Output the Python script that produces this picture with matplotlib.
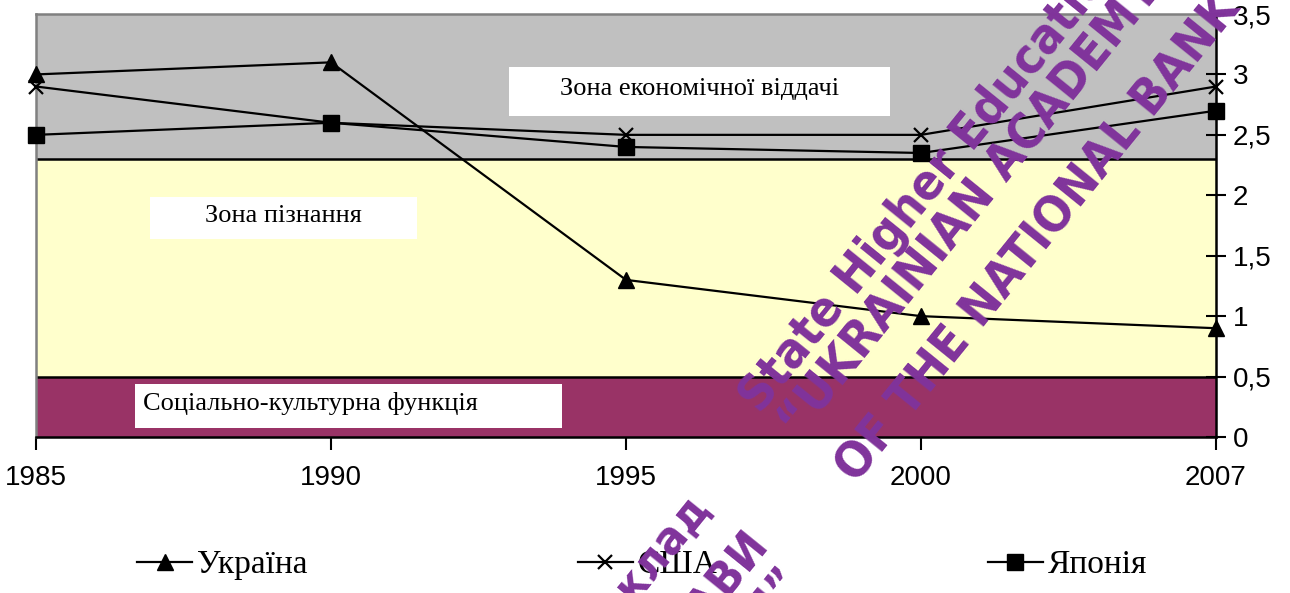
import numpy as np
import matplotlib.pyplot as plt
from matplotlib.patches import Rectangle

# data
years = ['1985', '1990', '1995', '2000', '2007']
ukraine = [3.0, 3.1, 1.3, 1.0, 0.9]
usa = [2.9, 2.6, 2.5, 2.5, 2.9]
japan = [2.5, 2.6, 2.4, 2.35, 2.7]
yticks = [0, 0.5, 1, 1.5, 2, 2.5, 3, 3.5]
ytick_labels = ['0', '0,5', '1', '1,5', '2', '2,5', '3', '3,5']
zone_bounds = [0, 0.5, 2.3, 3.5]
zone_colors = ['#993366', '#FFFFCC', '#C0C0C0']
zone_names = ['Соціально-культурна функція', 'Зона пізнання', 'Зона економічної віддачі']

W, H = 1290, 593
fig = plt.figure(figsize=(W / 100, H / 100), dpi=100)
ax = fig.add_axes([36 / W, 1 - 437 / H, (1216 - 36) / W, (437 - 14) / H])

x = np.arange(len(years))
ax.set_xlim(0, len(years) - 1)
ax.set_ylim(0, 3.5)

# background zones
for lo, hi, c in zip(zone_bounds[:-1], zone_bounds[1:], zone_colors):
    ax.axhspan(lo, hi, color=c, zorder=0, lw=0)
for b in zone_bounds[1:-1]:
    ax.axhline(b, color='black', lw=1.8, zorder=1)

# zone label boxes (x0, x1, y0, y1 in data units)
boxes = [(0.336, 1.783, 0.075, 0.438),
         (0.386, 1.292, 1.638, 1.986),
         (1.603, 2.895, 2.656, 3.061)]
for i, ((x0, x1, y0, y1), name) in enumerate(zip(boxes, zone_names)):
    ax.add_patch(Rectangle((x0, y0), x1 - x0, y1 - y0, facecolor='white',
                           edgecolor='none', zorder=2))
    if i == 0:
        tx, ha = x0 + 0.027, 'left'
    else:
        tx, ha = (x0 + x1) / 2, 'center'
    ax.text(tx, (y0 + y1) / 2 + 0.02, name, ha=ha, va='center',
            family='Liberation Serif', fontsize=19, zorder=3)

ax.plot(x, ukraine, color='black', lw=1.6, marker='^', ms=11, label='Україна',
        zorder=5, clip_on=False)
ax.plot(x, usa, color='black', lw=1.6, marker='x', ms=10, mew=1.6, label='США',
        zorder=5, clip_on=False)
ax.plot(x, japan, color='black', lw=1.6, marker='s', ms=11, label='Японія',
        zorder=5, clip_on=False)

ax.set_xticks(x)
ax.set_xticklabels(years, family='Liberation Sans', fontsize=20)
ax.set_yticks(yticks)
ax.set_yticklabels(ytick_labels, family='Liberation Sans', fontsize=20)
ax.yaxis.tick_right()
ax.tick_params(axis='x', direction='out', length=9, width=1.5, pad=11)
ax.tick_params(axis='y', direction='inout', length=14, width=1.5, pad=5)

for s in ['bottom', 'right']:
    ax.spines[s].set_color('black')
    ax.spines[s].set_linewidth(1.8)
for s in ['top', 'left']:
    ax.spines[s].set_color('#808080')
    ax.spines[s].set_linewidth(1.8)

leg = fig.legend(loc='center', bbox_to_anchor=(642 / W, 1 - 565 / H), ncol=3,
                 frameon=False, handlelength=1.65, handletextpad=0.15,
                 columnspacing=8.1, prop={'family': 'Liberation Serif', 'size': 24})

# watermark
wm = '#80339B'
wm_font = dict(family='DejaVu Sans', stretch='condensed', weight='bold',
               fontsize=36, color=wm, rotation=51,
               rotation_mode='anchor', ha='left', va='baseline', zorder=10)
fig.text(760 / W, 1 - 415 / H, 'State Higher Educational Institution', **wm_font)
fig.text(800 / W, 1 - 440 / H, '“UKRAINIAN ACADEMY OF BANKING”', **wm_font)
fig.text(857 / W, 1 - 485 / H, 'OF THE NATIONAL BANK OF UKRAINE', **wm_font)
wm_font2 = dict(wm_font, ha='right', fontsize=34)
fig.text(712 / W, 1 - 510 / H, 'навчальний заклад', **wm_font2)
fig.text(770 / W, 1 - 545 / H, 'ДЕРЖАВИ', **wm_font2)
fig.text(805 / W, 1 - 582 / H, 'УКРАЇНИ”', **wm_font2)

fig.savefig('out.png', dpi=100)
